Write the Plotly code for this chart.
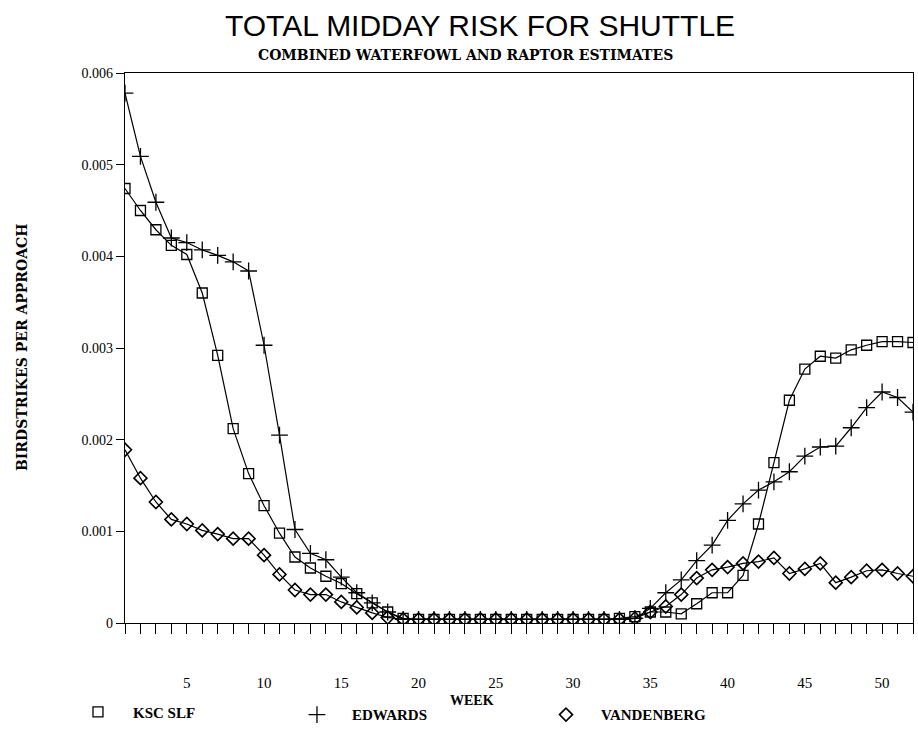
import plotly.graph_objects as go

weeks = list(range(1, 53))

ksc_slf = [0.00474, 0.00450, 0.00429, 0.00412, 0.00402, 0.00360, 0.00292, 0.00212, 0.00163, 0.00128,
           0.00098, 0.00072, 0.00060, 0.00051, 0.00043, 0.00032, 0.00022, 0.00012, 0.00005, 0.00004,
           0.00004, 0.00004, 0.00004, 0.00004, 0.00004, 0.00004, 0.00004, 0.00004, 0.00004, 0.00004,
           0.00004, 0.00004, 0.00005, 0.00007, 0.00012, 0.00012, 0.00010, 0.00021, 0.00033, 0.00033,
           0.00052, 0.00108, 0.00175, 0.00243, 0.00277, 0.00291, 0.00289, 0.00298, 0.00303, 0.00307,
           0.00307, 0.00306]

edwards = [0.00578, 0.00509, 0.00459, 0.00420, 0.00415, 0.00407, 0.00401, 0.00394, 0.00384, 0.00303,
           0.00205, 0.00102, 0.00076, 0.00069, 0.00050, 0.00033, 0.00022, 0.00012, 0.00004, 0.00004,
           0.00004, 0.00004, 0.00004, 0.00004, 0.00004, 0.00004, 0.00004, 0.00004, 0.00004, 0.00004,
           0.00004, 0.00004, 0.00004, 0.00005, 0.00016, 0.00033, 0.00047, 0.00068, 0.00085, 0.00112,
           0.00130, 0.00145, 0.00154, 0.00165, 0.00182, 0.00192, 0.00193, 0.00213, 0.00235, 0.00252,
           0.00246, 0.00230]

vandenberg = [0.00189, 0.00158, 0.00132, 0.00113, 0.00108, 0.00101, 0.00097, 0.00092, 0.00092, 0.00074,
              0.00053, 0.00036, 0.00031, 0.00031, 0.00023, 0.00017, 0.00011, 0.00006, 0.00004, 0.00004,
              0.00004, 0.00004, 0.00004, 0.00004, 0.00004, 0.00004, 0.00004, 0.00004, 0.00004, 0.00004,
              0.00004, 0.00004, 0.00004, 0.00005, 0.00012, 0.00018, 0.00031, 0.00049, 0.00058, 0.00061,
              0.00065, 0.00067, 0.00071, 0.00054, 0.00059, 0.00065, 0.00044, 0.00050, 0.00057, 0.00058,
              0.00054, 0.00051]

series_names = ["KSC SLF", "EDWARDS", "VANDENBERG"]
y_ticks = [0, 0.001, 0.002, 0.003, 0.004, 0.005, 0.006]
y_tick_text = ["0", "0.001", "0.002", "0.003", "0.004", "0.005", "0.006"]
x_ticks = [5, 10, 15, 20, 25, 30, 35, 40, 45, 50]

serif = "Liberation Serif, DejaVu Serif, serif"
wserif = "DejaVu Serif, Liberation Serif, serif"
sans = "Liberation Sans, Arial, sans-serif"

styles = [
    dict(symbol="square-open", size=10, line=dict(width=1.3, color="black")),
    dict(symbol="cross-thin-open", size=12, line=dict(width=1.3, color="black")),
    dict(symbol="diamond-open", size=10, line=dict(width=1.6, color="black")),
]
legend_ids = ["legend", "legend2", "legend3"]
legend_x = [-0.0787, 0.1992, 0.5152]

fig = go.Figure()
for name, vals, st, lid in zip(series_names, [ksc_slf, edwards, vandenberg], styles, legend_ids):
    fig.add_trace(go.Scatter(
        x=weeks, y=vals, mode="lines+markers", name=name, showlegend=False,
        line=dict(color="black", width=1.2), marker=dict(color="black", **st),
    ))
    # legend entry (marker only)
    fig.add_trace(go.Scatter(
        x=[None], y=[None], mode="markers", name=f"<b>{name}</b>", showlegend=True, legend=lid,
        marker=dict(color="black", **st),
    ))

legend_common = dict(
    orientation="h", yanchor="middle", xanchor="left", xref="paper", yref="paper",
    font=dict(family=serif, size=15, color="black"), itemwidth=60,
    bgcolor="rgba(0,0,0,0)", borderwidth=0,
)
fig.update_layout(
    width=918, height=734,
    margin=dict(l=125, r=5, t=73, b=111, autoexpand=False),
    paper_bgcolor="white", plot_bgcolor="white",
    showlegend=True,
    legend=dict(x=legend_x[0], y=-0.162, **legend_common),
    legend2=dict(x=legend_x[1], y=-0.167, **legend_common),
    legend3=dict(x=legend_x[2], y=-0.167, **legend_common),
    font=dict(family=serif, color="black"),
)

fig.update_xaxes(
    range=[1, 52], tickvals=x_ticks, ticks="outside", ticklen=10, tickwidth=1.2,
    tickcolor="black", showline=True, linecolor="black", linewidth=1.3, mirror=True,
    showgrid=False, zeroline=False, ticklabelstandoff=36,
    tickfont=dict(family=serif, size=15, color="black"),
    minor=dict(tickvals=weeks, ticks="outside", ticklen=10, tickwidth=1.2, tickcolor="black"),
)
fig.update_yaxes(
    range=[0, 0.006], tickvals=y_ticks, ticktext=y_tick_text, ticks="outside", ticklen=8,
    tickwidth=1.2, tickcolor="black", showline=True, linecolor="black", linewidth=1.3,
    mirror=True, showgrid=False, zeroline=False,
    tickfont=dict(family=serif, size=14, color="black"),
)

fig.add_annotation(
    text="<b>WEEK</b>", xref="paper", yref="paper", x=0.44, y=-0.14, xanchor="center", yanchor="middle",
    showarrow=False, font=dict(family=serif, size=14, color="black"),
)
fig.add_annotation(
    text="<b>BIRDSTRIKES PER APPROACH</b>", xref="paper", yref="paper", x=-0.1307, y=0.5,
    xanchor="center", yanchor="middle", textangle=-90, showarrow=False,
    font=dict(family=wserif, size=14, color="black"),
)
fig.add_annotation(
    text="TOTAL MIDDAY RISK FOR SHUTTLE", xref="paper", yref="paper",
    x=0.4505, y=1.0, yshift=48, xanchor="center", yanchor="middle", showarrow=False,
    font=dict(family=sans, size=30, color="black"),
)
fig.add_annotation(
    text="<b>COMBINED WATERFOWL AND RAPTOR ESTIMATES</b>", xref="paper", yref="paper",
    x=0.4315, y=1.0, yshift=18, xanchor="center", yanchor="middle", showarrow=False,
    font=dict(family=wserif, size=14, color="black"),
)

fig.write_html("out.html")
